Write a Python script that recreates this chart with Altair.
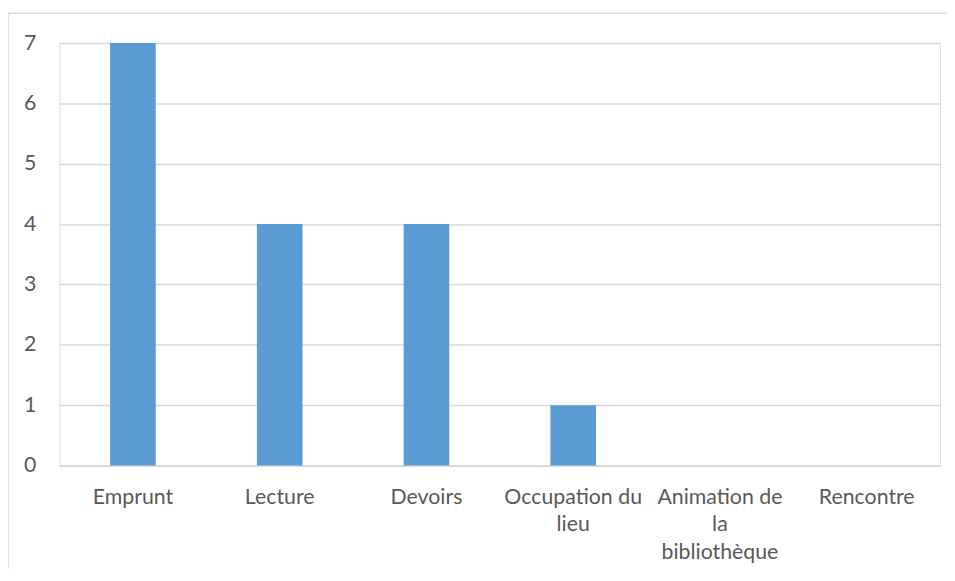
import altair as alt
import pandas as pd

categories = ["Emprunt", "Lecture", "Devoirs", "Occupation du lieu", "Animation de la bibliothèque", "Rencontre"]
values = [7, 4, 4, 1, 0, 0]

df = pd.DataFrame({"cat": categories, "val": values})

label_expr = ("datum.value == 'Occupation du lieu' ? ['Occupation du', 'lieu'] : "
              "datum.value == 'Animation de la bibliothèque' ? ['Animation de', 'la', 'bibliothèque'] : datum.value")

base = alt.Chart(df)

border = base.mark_rect(fill="transparent", fillOpacity=0, stroke="#D9D9D9", strokeWidth=1.5).encode(
    x=alt.value(-52), x2=alt.value(1000), y=alt.value(-30), y2=alt.value(700)
).transform_filter("datum.cat == 'Emprunt'")

bars = base.mark_bar(color="#5B9BD5", size=46).encode(
    x=alt.X("cat:N", sort=categories, title=None,
            scale=alt.Scale(paddingInner=0, paddingOuter=0),
            axis=alt.Axis(labelAngle=0, labelExpr=label_expr, labelFont="Lato", labelFontSize=21.5,
                          labelColor="#595959", labelPadding=21, labelLineHeight=28,
                          ticks=False, domain=True, domainColor="#D9D9D9", domainWidth=1.5,
                          labelLimit=300, labelOverlap=False)),
    y=alt.Y("val:Q", title=None,
            scale=alt.Scale(domain=[0, 7], nice=False),
            axis=alt.Axis(values=[0, 1, 2, 3, 4, 5, 6, 7], labelFont="Lato", labelFontSize=21.5,
                          labelColor="#595959", labelPadding=24, ticks=False, domain=False,
                          gridColor="#D9D9D9", gridWidth=1.5, format="d")),
)

chart = alt.layer(border, bars).properties(
    width=888, height=426,
    autosize=alt.AutoSizeParams(type="none"),
    padding={"left": 52, "top": 33, "right": 7, "bottom": 102},
).configure_view(stroke=None).configure(background="white")

chart.save("out.html", embed_options={"renderer": "svg", "actions": False})
